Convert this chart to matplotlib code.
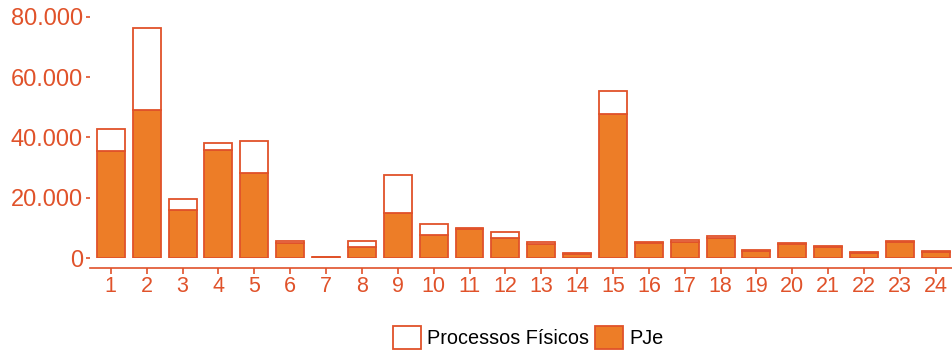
import matplotlib.pyplot as plt
from matplotlib.ticker import FuncFormatter

plt.rcParams['font.family'] = ['Liberation Sans', 'DejaVu Sans']

categories = [str(i) for i in range(1, 25)]
pje = [35500, 49100, 15900, 35800, 28200, 4900, 200, 3800, 15000, 7500,
       9600, 6700, 4800, 1200, 47700, 5000, 5400, 6600, 2300, 4700,
       3800, 1700, 5200, 2000]
fisicos = [7300, 27200, 3700, 2400, 10600, 700, 100, 1800, 12500, 3800,
           500, 1900, 500, 500, 7700, 400, 500, 800, 400, 400,
           300, 400, 300, 400]

fill = '#ED7D27'
edge = '#E0522A'
txt = '#E0522A'


def milhar(v, pos):
    return f"{int(v):,}".replace(',', '.')


def main():
    fig = plt.figure(figsize=(9.52, 3.52), dpi=100)
    ax = fig.add_axes([0.0945, 0.267, 0.9055, 0.685])
    x = list(range(1, len(categories) + 1))

    ax.bar(x, pje, width=0.78, color=fill, edgecolor=edge, linewidth=1.3,
           label='PJe')
    ax.bar(x, fisicos, bottom=pje, width=0.78, color='white', edgecolor=edge,
           linewidth=1.3, label='Processos Físicos')

    ax.set_xlim(0.42, 24.45)
    ax.set_ylim(0, 80000)
    ax.set_yticks([0, 20000, 40000, 60000, 80000])
    ax.yaxis.set_major_formatter(FuncFormatter(milhar))
    ax.set_xticks(x)
    ax.set_xticklabels(categories)

    for s in ['top', 'right', 'left']:
        ax.spines[s].set_visible(False)
    ax.spines['bottom'].set_position(('outward', 7))
    ax.spines['bottom'].set_color(edge)
    ax.spines['bottom'].set_linewidth(1.2)

    ax.tick_params(axis='y', colors=txt, labelsize=17, length=3, pad=2,
                   width=1.2)
    ax.tick_params(axis='x', colors=txt, labelsize=15.5, length=4, pad=2,
                   width=1.2)

    h, l = ax.get_legend_handles_labels()
    fig.legend(h[::-1], l[::-1], loc='center',
               bbox_to_anchor=(0.555, 0.042), ncol=2, frameon=False,
               fontsize=14.3, handlelength=1.4, handleheight=1.4,
               handletextpad=0.3, columnspacing=0.3, borderpad=0)

    fig.savefig('out.png', dpi=100)
    return fig


if __name__ == "__main__":
    main()
